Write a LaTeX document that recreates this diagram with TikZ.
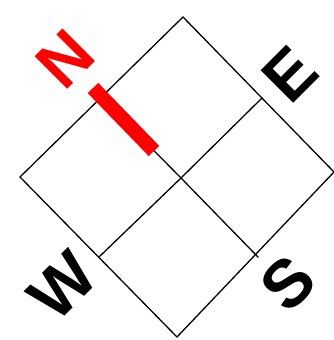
\documentclass[tikz,border=0pt]{standalone}
\usepackage{fontspec}
\setmainfont{Liberation Sans}
\begin{document}
\begin{tikzpicture}[x=1pt,y=-1pt,
  edge/.style={line width=1.3pt, line join=miter, line cap=rect},
  bar/.style={red, line width=14.6pt},
  lbl/.style={font=\fontsize{67}{67}\selectfont\bfseries, rotate=45, inner sep=0pt, anchor=center}]
\useasboundingbox (0,0) rectangle (334,340);
% diamond vertices
\coordinate (T) at (183,17);
\coordinate (R) at (334,172);
\coordinate (B) at (177,337);
\coordinate (L) at (20,177);
% edge midpoints and centre
\coordinate (TR) at (262,98);
\coordinate (RB) at (258,257);
\coordinate (BL) at (99,257);
\coordinate (LT) at (101,97);
\coordinate (C) at (181,178);
% red bar ends
\coordinate (barA) at (93,88);
\coordinate (barB) at (154,151);
\draw[edge] (T) -- (R) -- (B) -- (L) -- cycle;
\draw[edge] (LT) -- (C) -- (RB);
\draw[edge] (TR) -- (C) -- (BL);
\draw[bar] (barA) -- (barB);
\node[lbl, text=red] (N) at (65,59) {N};
\node[lbl] (E) at (290,74) {E};
\node[lbl] (S) at (288,283) {S};
\node[lbl] (W) at (63,286) {W};
\end{tikzpicture}
\end{document}
